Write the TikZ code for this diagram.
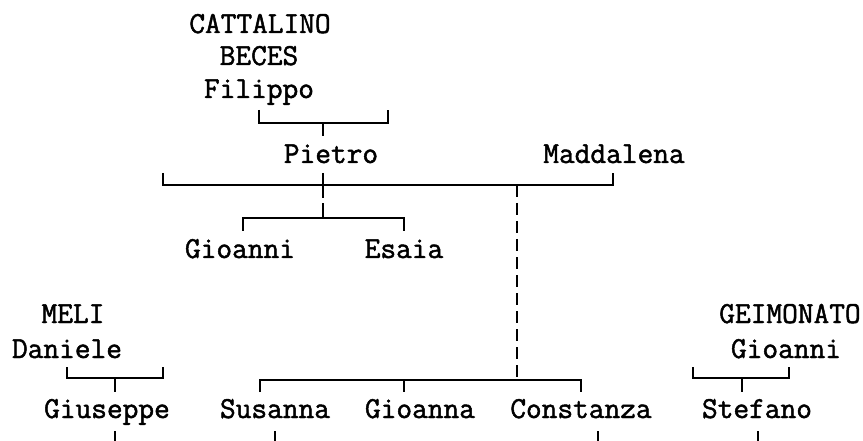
\documentclass[tikz,border=0pt]{standalone}
\usepackage{fontspec}
\newfontfamily\namefont[FakeBold=1.6]{Latin Modern Mono}
\begin{document}
\begin{tikzpicture}[x=1pt,y=-1pt,
  nm/.style={font=\namefont\fontsize{30.5}{34}\selectfont, inner sep=0pt, anchor=base},
  conn/.style={line width=1.5pt},
  dconn/.style={line width=1.5pt, dash pattern=on 12pt off 6pt}]
\useasboundingbox (0,0) rectangle (863,441);
\node[nm] (cat) at (260,33) {CATTALINO};
\node[nm] (bec) at (259,65) {BECES};
\node[nm] (fil) at (259,98) {Filippo};
\node[nm] (pie) at (331,163) {Pietro};
\node[nm] (mad) at (614,163) {Maddalena};
\node[nm] (gio1) at (240,258) {Gioanni};
\node[nm] (esa) at (404,258) {Esaia};
\node[nm] (meli) at (73,323) {MELI};
\node[nm] (dan) at (67,358) {Daniele};
\node[nm] (gei) at (790,323) {GEIMONATO};
\node[nm] (gio2) at (786,358) {Gioanni};
\node[nm] (giu) at (107,418) {Giuseppe};
\node[nm] (sus) at (275,418) {Susanna};
\node[nm] (gia) at (420,418) {Gioanna};
\node[nm] (con) at (581,418) {Constanza};
\node[nm] (ste) at (757,418) {Stefano};
% Filippo family
\coordinate (fL) at (259,110); \coordinate (fR) at (388,110);
\coordinate (fM) at (323,123); \coordinate (fS) at (323,136);
\draw[conn] (fL) |- (fR |- fM) -- (fR);
\draw[conn] (fM) -- (fS);
% Pietro - Maddalena
\coordinate (mL) at (163,173); \coordinate (mR) at (613,173);
\coordinate (mP) at (323,173); \coordinate (mY) at (323,185);
\draw[conn] (mL) |- (mR |- mY) -- (mR);
\draw[conn] (mP) -- (mY);
% Gioanni, Esaia
\coordinate (gL) at (243,231); \coordinate (gR) at (404,231);
\coordinate (gM) at (323,218);
\draw[conn, dash pattern=on 15pt off 5pt] (gM) -- (mY);
\draw[conn] (gL) |- (gR |- gM) -- (gR);
% second children
\coordinate (dT) at (517,185); \coordinate (dB) at (517,380);
\draw[dconn] (dT) -- (dB);
\coordinate (cL) at (260,392); \coordinate (cR) at (581,392);
\coordinate (cM) at (404,380); \coordinate (cS) at (404,392);
\draw[conn] (cL) |- (cR |- cM) -- (cR);
\draw[conn] (cM) -- (cS);
% Meli
\coordinate (eL) at (67,367); \coordinate (eR) at (163,367);
\coordinate (eM) at (115,378); \coordinate (eS) at (115,392);
\draw[conn] (eL) |- (eR |- eM) -- (eR);
\draw[conn] (eM) -- (eS);
% Geimonato
\coordinate (hL) at (693,367); \coordinate (hR) at (789,367);
\coordinate (hM) at (742,378); \coordinate (hS) at (742,392);
\draw[conn] (hL) |- (hR |- hM) -- (hR);
\draw[conn] (hM) -- (hS);
% bottom stems
\foreach \n/\x in {b1/115, b2/275, b3/598, b4/758} {
  \coordinate (\n t) at (\x,431); \coordinate (\n b) at (\x,441);
  \draw[conn] (\n t) -- (\n b);
}
\end{tikzpicture}
\end{document}
